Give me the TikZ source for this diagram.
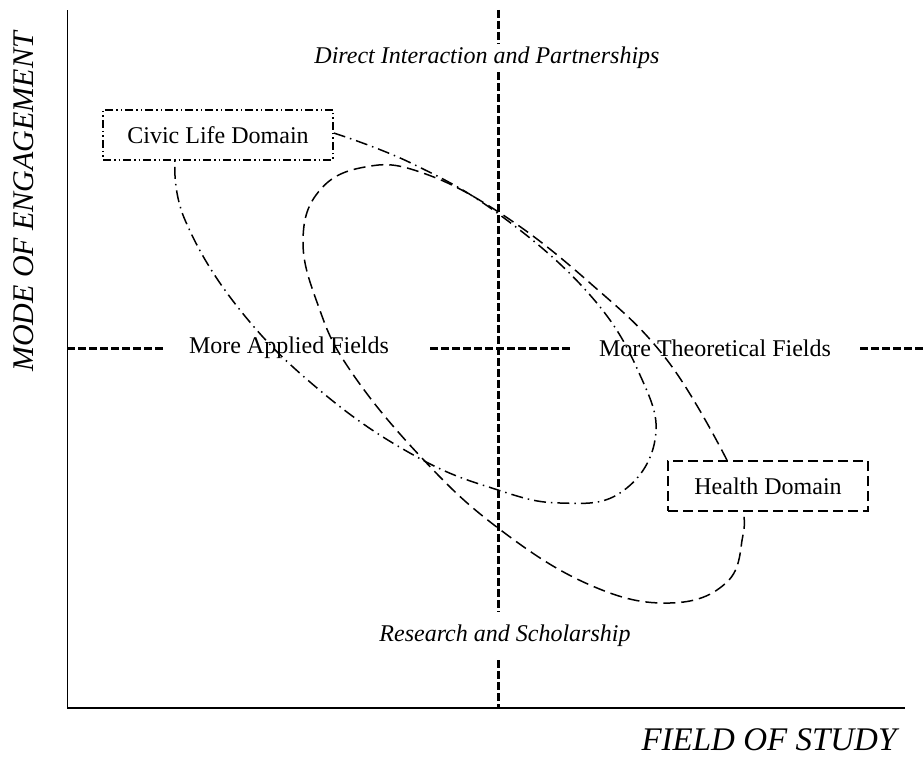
\documentclass[tikz,border=0pt]{standalone}
\usepackage{fontspec}
\setmainfont{Liberation Serif}
\usetikzlibrary{calc}
\begin{document}
\begin{tikzpicture}[x=1pt,y=-1pt,
  font=\fontsize{24}{28}\selectfont,
  axisdash/.style={line width=3pt, dash pattern=on 8pt off 3pt},
  civicstyle/.style={draw, line width=1.6pt, dash pattern=on 8pt off 3pt on 1.5pt off 3pt on 1.5pt off 3pt},
  healthstyle/.style={draw, line width=1.6pt, dash pattern=on 10pt off 5pt},
  civicloop/.style={line width=1.5pt, dash pattern=on 12pt off 5pt on 1.5pt off 5pt},
  healthloop/.style={line width=1.5pt, dash pattern=on 12pt off 6pt},
  domainbox/.style={minimum width=230pt, minimum height=50pt, inner sep=0pt},
  ital/.style={font=\fontsize{24}{28}\selectfont\itshape}
]
\useasboundingbox (0,0) rectangle (924,770);

% axes
\coordinate (o) at (67,708);
\coordinate (ytop) at (67,10);
\coordinate (xend) at (905,708);
\draw[line width=1pt] (o) -- (ytop);
\draw[line width=2pt] (o) -- (xend);

% labels
\node[rotate=90, font=\fontsize{30}{34}\selectfont\itshape] (mode) at (24,202) {MODE OF ENGAGEMENT};
\node[font=\fontsize{33}{38}\selectfont\itshape] (field) at (769,740) {FIELD OF STUDY};
\node[ital, inner ysep=3pt] (direct) at (487,58) {Direct Interaction and Partnerships};
\node[ital, inner ysep=13pt] (research) at (505,636) {Research and Scholarship};
\node (applied) at (289,348) {More Applied Fields};
\node (theor) at (715,348) {More Theoretical Fields};

% domain boxes
\node[domainbox, civicstyle] (civic) at (218,135) {Civic Life Domain};
\node[domainbox, healthstyle, minimum width=200pt] (health) at (768,486) {Health Domain};

% dashed cross
\coordinate (vtop) at (498,10);
\coordinate (vbot) at (498,708);
\draw[axisdash] (vtop) -- (direct.north -| vtop);
\draw[axisdash] (direct.south -| vtop) -- (research.north -| vtop);
\draw[axisdash] (research.south -| vtop) -- (vbot);

\coordinate (h0) at (67,348);
\coordinate (h1) at (163,348);
\coordinate (h2) at (430,348);
\coordinate (h3) at (570,348);
\coordinate (h4) at (860,348);
\coordinate (h5) at (924,348);
\draw[axisdash] (h0) -- (h1);
\draw[axisdash] (h2) -- (h3);
\draw[axisdash] (h4) -- (h5);

% civic loop (dash-dot)
\draw[civicloop] plot[smooth, tension=0.7] coordinates {
  ($(civic.east)+(0,-2)$) (413,164) (500,215) (590,295)
  (640,375) (655,440) (620,493) (560,503)
  (498,490) (417,457) (323,393) (240,310) (185,220)
  ($(civic.south)+(-43,0)$)};

% health loop (dashed)
\draw[healthloop] plot[smooth, tension=0.7] coordinates {
  ($(health.north)+(-41,0)$) (667,360) (590,283) (500,213)
  (420,172) (365,167) (320,190) (303,240)
  (318,305) (350,370) (420,456) (498,528)
  (590,585) (670,603) (727,582) (743,535)
  ($(health.south)+(-25,0)$)};
\end{tikzpicture}
\end{document}
